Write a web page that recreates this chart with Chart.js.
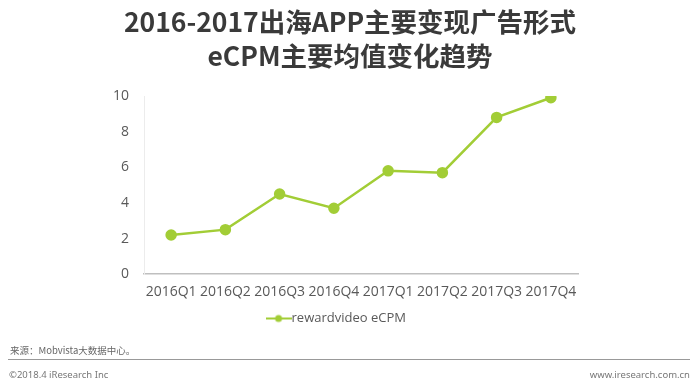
<!DOCTYPE html>
<html>
<head>
<meta charset="utf-8">
<script src="https://cdn.jsdelivr.net/npm/chart.js@4"></script>
<style>
	body { margin: 0; background: #fff; }
	#wrap { position: relative; width: 700px; height: 392px; }
	#title { position: absolute; left: 0; top: 4px; width: 700px; text-align: center; font: bold 26.5px/34px "Noto Sans CJK SC", sans-serif; color: #3a3a3a; }
	#source { position: absolute; left: 10px; top: 343px; font: 9.5px "Noto Sans CJK SC", sans-serif; color: #666; }
	#rule { position: absolute; left: 8px; top: 359px; width: 682px; height: 1px; background: #999; }
	#copy { position: absolute; left: 9px; top: 368px; font: 9.5px "Liberation Sans Narrow", "Noto Sans", sans-serif; color: #777; }
	#site { position: absolute; right: 10px; top: 368px; font: 9.5px "Liberation Sans Narrow", "Noto Sans", sans-serif; color: #777; }
</style>
</head>
<body>
<div id="wrap">
	<canvas id="myLineChart" width="700" height="392"></canvas>
	<div id="title">2016-2017出海APP主要变现广告形式<br>eCPM主要均值变化趋势</div>
	<div id="source">来源：Mobvista大数据中心。</div>
	<div id="rule"></div>
	<div id="copy">©2018.4 iResearch Inc</div>
	<div id="site">www.iresearch.com.cn</div>
</div>
<script>
// 데이터
var quarters = ["2016Q1", "2016Q2", "2016Q3", "2016Q4", "2017Q1", "2017Q2", "2017Q3", "2017Q4"];
var ecpmValues = [2.2, 2.5, 4.5, 3.7, 5.8, 5.7, 8.8, 9.9];
var yTicks = [0, 2, 4, 6, 8, 10];
var seriesName = "rewardvideo eCPM";

var green = "#a2cd36";

// 범례용 아이콘 (선 + 점)
var legendIcon = document.createElement("canvas");
legendIcon.width = 26;
legendIcon.height = 10;
var ic = legendIcon.getContext("2d");
ic.strokeStyle = green;
ic.lineWidth = 2;
ic.beginPath();
ic.moveTo(0, 5);
ic.lineTo(26, 5);
ic.stroke();
ic.fillStyle = green;
ic.beginPath();
ic.arc(13, 5, 3.5, 0, Math.PI * 2);
ic.fill();

var ctx = document.getElementById("myLineChart").getContext("2d");
window.myLineChart = new Chart(ctx, {
	type: "line",
	data: {
		labels: quarters,
		datasets: [{
			label: seriesName,
			data: ecpmValues,
			borderColor: green,
			backgroundColor: green,
			borderWidth: 2.5,
			pointRadius: 4.5,
			pointBackgroundColor: green,
			pointBorderColor: green,
			tension: 0
		}]
	},
	options: {
		responsive: false,
		animation: false,
		layout: {
			padding: { left: 100, right: 122, top: 96, bottom: 57 }
		},
		plugins: {
			title: { display: false },
			legend: {
				position: "bottom",
				labels: {
					usePointStyle: true,
					generateLabels: function(chart) {
						return [{
							text: seriesName,
							pointStyle: legendIcon,
							fontColor: "#595959",
							datasetIndex: 0,
							hidden: false,
							lineWidth: 0
						}];
					},
					color: "#595959",
					font: { family: "'Open Sans', sans-serif", size: 13 },
					padding: 8
				}
			},
			tooltip: { enabled: false }
		},
		scales: {
			x: {
				offset: true,
				afterFit: function(scale) { scale.height = scale.height - 5; },
				grid: { display: false, drawTicks: false },
				border: { color: "#bfbfbf", width: 1.5 },
				ticks: {
					color: "#595959",
					font: { family: "'Open Sans', sans-serif", size: 14 },
					padding: 9,
					maxRotation: 0
				}
			},
			y: {
				min: 0,
				max: 10,
				afterFit: function(scale) { scale.width = 44; },
				afterBuildTicks: function(scale) {
					scale.ticks = yTicks.map(function(v) { return { value: v }; });
				},
				grid: { display: false, drawTicks: false },
				border: { color: "#ececec", width: 1 },
				ticks: {
					color: "#595959",
					font: { family: "'Open Sans', sans-serif", size: 14 },
					padding: 15
				}
			}
		}
	}
});
</script>
</body>
</html>
